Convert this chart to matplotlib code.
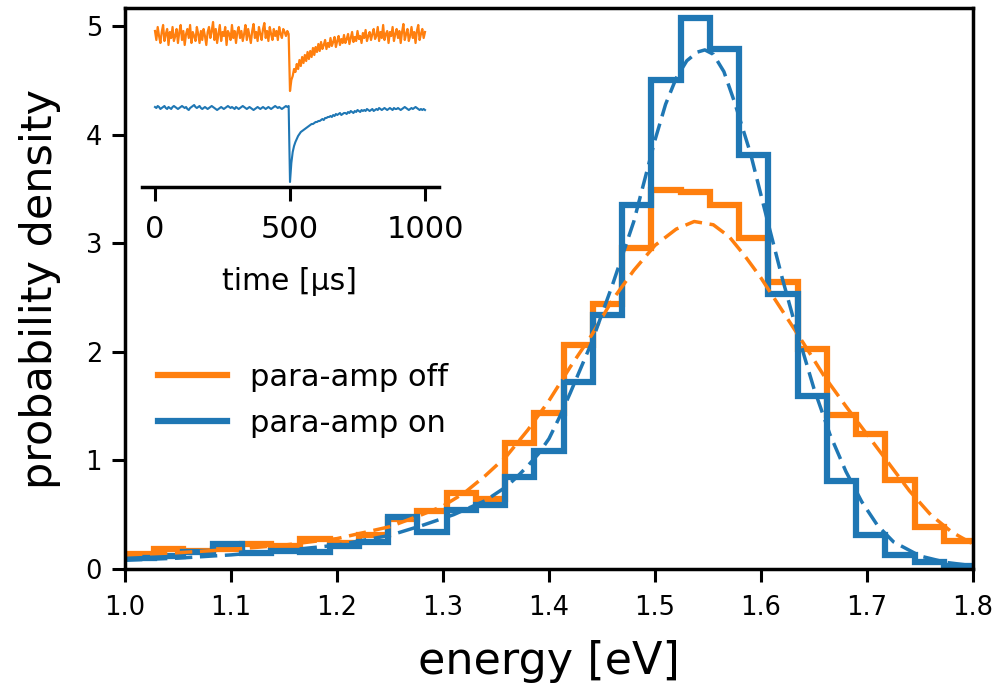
import numpy as np
import matplotlib
matplotlib.use("Agg")
import matplotlib.pyplot as plt

# ---- histogram data (probability density per bin) ----
bin_lo, bin_hi, n_bins = 1.0, 1.8, 29
density_off = [0.14, 0.18, 0.17, 0.185, 0.23, 0.21, 0.28, 0.24, 0.31, 0.46,
               0.53, 0.70, 0.64, 1.16, 1.44, 2.06, 2.44, 2.96, 3.49, 3.47,
               3.35, 3.05, 2.64, 2.03, 1.42, 1.24, 0.82, 0.39, 0.26]
density_on = [0.10, 0.12, 0.16, 0.23, 0.15, 0.17, 0.16, 0.21, 0.25, 0.48,
              0.34, 0.54, 0.59, 0.85, 1.09, 1.72, 2.34, 3.35, 4.50, 5.07,
              4.79, 3.81, 2.53, 1.59, 0.81, 0.31, 0.13, 0.065, 0.03]

# ---- fitted line shapes ----
fit_off_e = [1.00, 1.05, 1.10, 1.15, 1.20, 1.25, 1.28, 1.30, 1.32, 1.34, 1.36,
             1.38, 1.40, 1.42, 1.44, 1.46, 1.48, 1.50, 1.52, 1.537, 1.555,
             1.57, 1.585, 1.60, 1.62, 1.64, 1.66, 1.68, 1.70, 1.72, 1.74,
             1.76, 1.78, 1.80]
fit_off_p = [0.13, 0.15, 0.18, 0.22, 0.28, 0.39, 0.50, 0.58, 0.70, 0.86, 1.04,
             1.28, 1.55, 1.86, 2.15, 2.48, 2.75, 2.98, 3.13, 3.20, 3.17,
             3.06, 2.88, 2.68, 2.38, 2.08, 1.77, 1.50, 1.24, 0.98, 0.72,
             0.50, 0.34, 0.23]
fit_on_e = [1.00, 1.05, 1.10, 1.15, 1.20, 1.25, 1.28, 1.31, 1.34, 1.36, 1.37,
            1.38, 1.39, 1.40, 1.41, 1.42, 1.43, 1.44, 1.46, 1.48, 1.50, 1.51,
            1.52, 1.53, 1.54, 1.547, 1.555, 1.565, 1.575, 1.59, 1.605, 1.62,
            1.635, 1.65, 1.665, 1.68, 1.695, 1.71, 1.725, 1.75, 1.775, 1.80]
fit_on_p = [0.08, 0.10, 0.13, 0.17, 0.22, 0.31, 0.40, 0.50, 0.63, 0.76, 0.85,
            0.95, 1.06, 1.20, 1.40, 1.62, 1.85, 2.08, 2.62, 3.20, 3.95, 4.28,
            4.52, 4.68, 4.76, 4.78, 4.74, 4.58, 4.30, 3.83, 3.25, 2.68,
            2.15, 1.66, 1.24, 0.90, 0.62, 0.40, 0.25, 0.12, 0.06, 0.03]

# ---- example pulses (inset), sampled every 5 us ----
trace_t = list(range(0, 1001, 5))
trace_off = [5, -4, 9, 0, -7, 4, 11, -5, 2, 7, -9, 4, -2, 9, -5, 0, 7, -7, 4, 11,
             -4, 5, -9, 2, 7, -2, 11, -7, 4, 0, -5, 9, 2, -7, 5, -4, 7, 0, -9, 4,
             9, -2, 5, 14, -4, 7, -7, 2, 11, -5, 4, 0, 9, -9, 5, 2, -4, 11, -2, 5,
             -7, 4, 9, -2, 5, -5, 2, 11, -4, 7, 0, -7, 5, 12, -2, 4, -5, 9, 2, -4,
             7, 13, -2, 5, -5, 9, 2, -4, 7, 0, 5, -4, 9, 2, -2, 7, 4, 0, 5, 2,
             -55, -44, -40, -33, -36, -28, -33, -24, -30, -21, -27, -19, -25, -16, -23, -15, -21, -12, -19, -11,
             -16, -8, -15, -6, -13, -9, -4, -13, -7, -11, -2, -10, -6, -1, -11, -5, 0, -9, -3, -7,
             1, -7, -3, 2, -8, -2, 4, -6, -1, -5, 5, -3, 0, -7, 3, -2, 6, -5, 0, 4,
             -4, 2, 7, -3, 0, 9, -5, 4, -2, 11, -4, 2, 5, -7, 4, 0, 9, -5, 2, 7,
             -2, 5, -7, 4, 12, -4, 2, 7, -5, 0, 9, -2, 4, -7, 5, 11, -4, 2, 7, -2,
             4]
trace_on = [1, 0, 2, 1, -1, 0, 1, 2, 0, -1, 1, 0, -1, 1, 2, 1, 0, -1, 0, 1,
            2, 1, 0, 1, -1, -2, 0, 1, 2, 3, 1, 0, 1, 2, 0, -1, 0, 1, 0, -1,
            0, 1, 2, 1, 0, -1, -2, -1, 0, 1, 0, -1, 0, 1, 2, 1, 0, 1, 0, -1,
            1, 0, -1, 0, 1, 2, 1, 0, -1, 0, 1, 0, -1, -2, -1, 0, 1, 0, -1, 0,
            1, 0, -1, 0, 1, 0, -1, 0, 1, 2, 1, 0, 1, 0, -1, 0, 1, 2, 1, 2,
            -74, -55, -44, -38, -34, -31, -28, -26, -24, -23, -22, -21, -20, -19, -18, -17, -16, -16, -15, -14,
            -14, -13, -13, -12, -11, -12, -10, -10, -9, -9, -8, -9, -7, -8, -6, -7, -6, -5, -7, -6,
            -5, -5, -6, -4, -5, -3, -4, -5, -3, -4, -2, -3, -4, -2, -3, -2, -3, -1, -2, -3,
            -2, -1, -3, -2, -1, -2, 0, -1, -2, -1, 0, -1, -2, -1, 0, -1, -2, 0, -1, -1,
            0, -1, -2, -1, 0, 1, 0, -1, -2, -1, 0, -1, 0, 1, 0, -1, -2, -1, -2, -1,
            -2]

C_OFF = "#ff7f0e"
C_ON = "#1f77b4"

fig = plt.figure(figsize=(9.98, 6.92), dpi=100)
W, H = 998, 692
ax = fig.add_axes([125 / W, 1 - 569 / H, 848 / W, 561 / H])

edges = np.linspace(bin_lo, bin_hi, n_bins + 1)
ax.stairs(density_off, edges, baseline=None, color=C_OFF, lw=4.5,
          label="para-amp off")
ax.stairs(density_on, edges, baseline=None, color=C_ON, lw=4.5,
          label="para-amp on")
ax.plot(fit_off_e, fit_off_p, color=C_OFF, lw=2.5, dashes=(5, 2.2))
ax.plot(fit_on_e, fit_on_p, color=C_ON, lw=2.5, dashes=(5, 2.2))

ax.set_xlim(1.0, 1.8)
ax.set_ylim(0, 5.166)
ax.set_xticks(np.arange(1.0, 1.801, 0.1))
ax.set_xticklabels([f"{v:.1f}" for v in np.arange(1.0, 1.801, 0.1)])
ax.set_yticks(range(6))
ax.tick_params(labelsize=18.5, length=9.5, width=2.2)
ax.tick_params(axis="y", pad=7)
ax.tick_params(axis="x", pad=9)
for s in ax.spines.values():
    s.set_linewidth(2.5)
ax.set_xlabel("energy [eV]", fontsize=32, labelpad=14)
ax.set_ylabel("probability density", fontsize=31, labelpad=18)

ax.legend(loc="upper left", bbox_to_anchor=(158 / W, 1 - 363 / H),
          bbox_transform=fig.transFigure, frameon=False, fontsize=22,
          handlelength=2.26, handletextpad=0.75, borderpad=0,
          borderaxespad=0, labelspacing=0.55)

# ---- inset with single pulses ----
ins = fig.add_axes([141.5 / W, 1 - 187 / H, 297 / W, 177 / H])
ins.set_facecolor("none")
ins.plot(trace_t, trace_off, color=C_OFF, lw=1.6)
ins.plot(trace_t, np.array(trace_on) - 72, color=C_ON, lw=1.5)
ins.set_xlim(-50, 1050)
ins.set_ylim(-151, 26)
for side in ("left", "right", "top"):
    ins.spines[side].set_visible(False)
ins.spines["bottom"].set_linewidth(2.5)
ins.set_yticks([])
ins.set_xticks([0, 500, 1000])
ins.tick_params(labelsize=22, length=10, width=2.2, pad=10)
ins.set_xlabel("time [\u00b5s]", fontsize=21.5, labelpad=17)

fig.savefig("out.png", dpi=100)
